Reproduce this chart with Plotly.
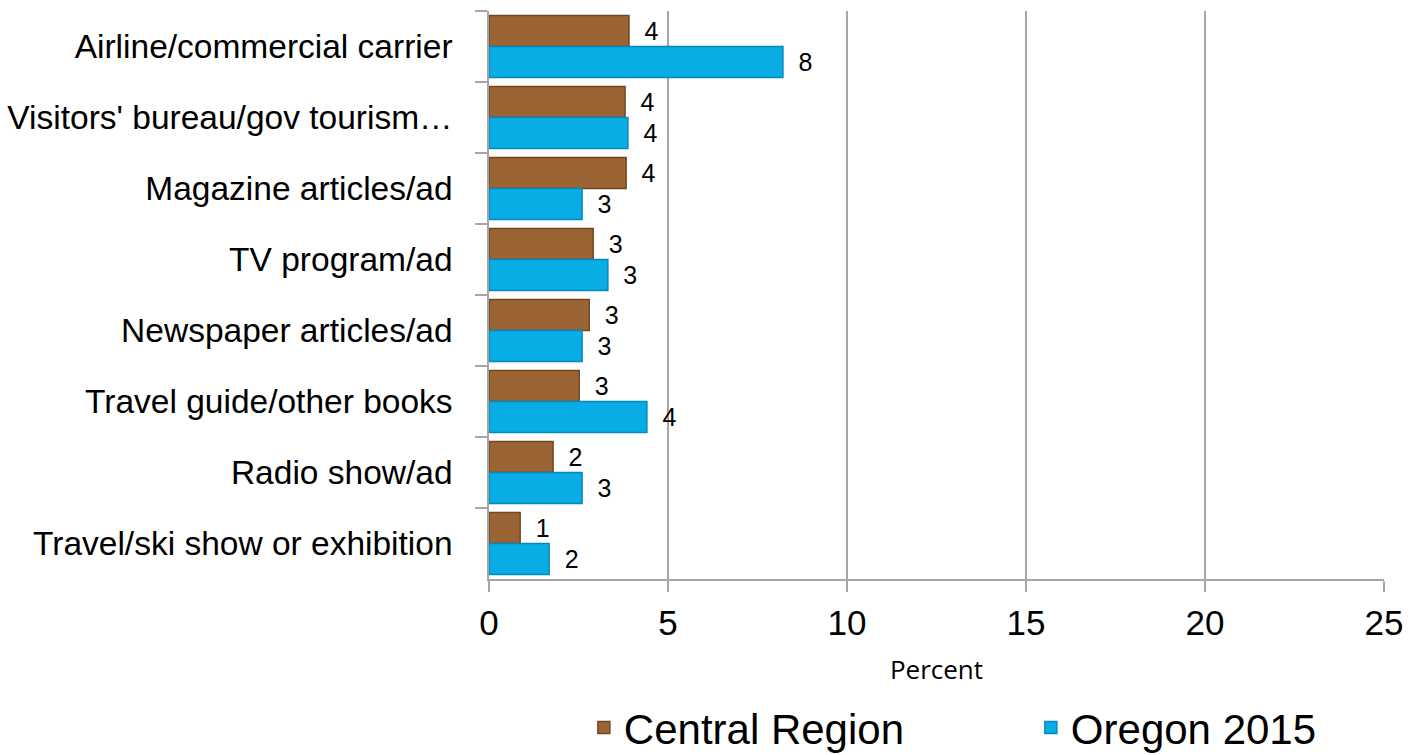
import plotly.graph_objects as go

categories = [
    "Airline/commercial carrier",
    "Visitors' bureau/gov tourism…",
    "Magazine articles/ad",
    "TV program/ad",
    "Newspaper articles/ad",
    "Travel guide/other books",
    "Radio show/ad",
    "Travel/ski show or exhibition",
]
central_region = [3.91, 3.80, 3.83, 2.91, 2.80, 2.52, 1.79, 0.87]
oregon_2015 = [8.21, 3.88, 2.60, 3.32, 2.60, 4.41, 2.60, 1.68]
x_ticks = [0, 5, 10, 15, 20, 25]

BROWN = "#9a6434"
BROWN_EDGE = "#74481f"
BLUE = "#08ade6"
BLUE_EDGE = "#0589bd"
GRID = "#a6a6a6"
FONT = "Liberation Sans, Arial, sans-serif"

fig = go.Figure()
fig.add_trace(go.Bar(
    name="Central Region", y=categories, x=central_region, orientation="h",
    marker=dict(color=BROWN, line=dict(color=BROWN_EDGE, width=1.5)),
    text=[f"{round(v)}" for v in central_region],
    texttemplate="\u2002%{text}", textposition="outside", constraintext="none",
    textfont=dict(size=25, color="black", family=FONT), cliponaxis=False,
))
fig.add_trace(go.Bar(
    name="Oregon 2015", y=categories, x=oregon_2015, orientation="h",
    marker=dict(color=BLUE, line=dict(color=BLUE_EDGE, width=1.5)),
    text=[f"{round(v)}" for v in oregon_2015],
    texttemplate="\u2002%{text}", textposition="outside", constraintext="none",
    textfont=dict(size=25, color="black", family=FONT), cliponaxis=False,
))

fig.update_layout(
    width=1414, height=755,
    margin=dict(l=489, r=30, t=11, b=176, autoexpand=False),
    paper_bgcolor="white", plot_bgcolor="white",
    barmode="group", bargap=0.13, bargroupgap=0.0,
    font=dict(family=FONT, color="black"),
    showlegend=True,
    legend=dict(
        orientation="h", x=0.106, xanchor="left",
        yref="paper", y=-0.202, yanchor="top",
        font=dict(size=42, family=FONT, color="black"),
        entrywidth=402, entrywidthmode="pixels", itemwidth=30,
        traceorder="normal",
    ),
)
fig.update_xaxes(
    range=[0, 25], tickvals=x_ticks, ticktext=[str(t) for t in x_ticks],
    showgrid=True, gridcolor=GRID, gridwidth=1.5,
    zeroline=False,
    showline=True, linecolor=GRID, linewidth=1.5,
    ticks="outside", ticklen=11, tickcolor=GRID, tickwidth=1.5,
    tickfont=dict(size=35, family=FONT, color="black"),
    ticklabelstandoff=1,
    title=dict(text="Percent", font=dict(size=26, family="Open Sans, sans-serif", color="black"), standoff=20),
)
fig.update_yaxes(
    autorange="reversed", type="category",
    showgrid=False, zeroline=False,
    showline=True, linecolor=GRID, linewidth=1.5,
    ticks="outside", ticklen=12, tickcolor=GRID, tickwidth=1.5,
    tickson="boundaries",
    tickfont=dict(size=33.5, family=FONT, color="black"),
    ticklabelstandoff=28,
)

fig.write_html(
    "out.html",
    config={"displayModeBar": False},
    post_script="document.body.style.margin='0';",
)
